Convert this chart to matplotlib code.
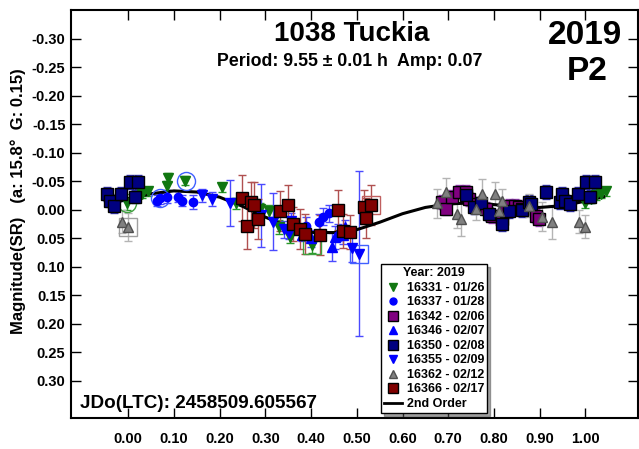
import matplotlib
matplotlib.use("Agg")
import matplotlib.pyplot as plt
from matplotlib.lines import Line2D

plt.rcParams['font.family'] = ['Liberation Sans', 'DejaVu Sans']
plt.rcParams['font.weight'] = 'bold'

# Session 16331 - 01/26
s16331_x = [-0.002, 0.03, 0.044, 0.085, 0.087, 0.124, 0.205, 0.235, 0.288, 0.309, 0.33, 0.353, 0.403,
            1.000, 1.013, 1.024, 1.035, 1.044]
s16331_y = [-0.011, -0.028, -0.032, -0.042, -0.056, -0.051, -0.039, -0.011, -0.002, 0.002, 0.030, 0.047, 0.061,
            -0.011, -0.019, -0.025, -0.028, -0.032]
s16331_e = [0.012, 0.008, 0.008, 0.008, 0.008, 0.008, 0.008, 0.010, 0.010, 0.010, 0.012, 0.012, 0.015,
            0.008, 0.008, 0.008, 0.008, 0.008]

# Session 16337 - 01/28
s16337_x = [0.063, 0.07, 0.085, 0.109, 0.118, 0.142, 0.39, 0.418, 0.427, 0.44]
s16337_y = [-0.016, -0.020, -0.023, -0.023, -0.016, -0.014, 0.028, 0.022, 0.012, 0.006]
s16337_e = [0.010, 0.010, 0.012, 0.010, 0.010, 0.012, 0.015, 0.015, 0.015, 0.015]

# Session 16342 - 02/06
s16342_x = [0.686, 0.695, 0.708, 0.723, 0.738, 0.745, 0.76, 0.782, 0.795, 0.817, 0.826, 0.832, 0.847,
            0.854, 0.861, 0.891, 0.898]
s16342_y = [-0.014, -0.002, -0.023, -0.031, -0.031, -0.019, -0.010, -0.002, 0.011, 0.016, 0.002, -0.007,
            -0.007, -0.005, -0.002, 0.011, 0.016]
s16342_e = [0.012] * 17

# Session 16346 - 02/07
s16346_x = [0.38, 0.40, 0.445, 0.452, 0.46, 0.47, 0.475]
s16346_y = [0.045, 0.050, 0.065, 0.048, 0.040, 0.045, 0.030]
s16346_e = [0.010, 0.015, 0.025, 0.020, 0.015, 0.015, 0.012]

# Session 16350 - 02/08
s16350_x = [-0.046, -0.04, -0.032, -0.015, 0.005, 0.015, 0.022, 0.738, 0.756, 0.771, 0.789, 0.817, 0.832,
            0.862, 0.876, 0.882, 0.913, 0.945, 0.948, 0.956, 0.967, 0.983, 1.002, 1.01, 1.02]
s16350_y = [-0.028, -0.016, -0.007, -0.028, -0.049, -0.023, -0.049, -0.025, -0.005, -0.011, 0.007, 0.025,
            0.002, 0.000, -0.014, -0.010, -0.031, -0.014, -0.028, -0.016, -0.010, -0.028, -0.049, -0.023, -0.049]
s16350_e = [0.012] * 25

# Session 16355 - 02/09
s16355_x = [0.161, 0.183, 0.222, 0.29, 0.316, 0.34, 0.352, 0.356, 0.49, 0.505]
s16355_y = [-0.025, -0.019, -0.012, 0.010, 0.021, 0.034, 0.040, 0.020, 0.067, 0.077]
s16355_e = [0.012, 0.012, 0.040, 0.055, 0.050, 0.015, 0.012, 0.015, 0.025, 0.145]

# Session 16362 - 02/12
s16362_x = [-0.013, 0.0, 0.676, 0.695, 0.719, 0.729, 0.76, 0.774, 0.803, 0.81, 0.817, 0.876, 0.904,
            0.926, 0.985, 1.0]
s16362_y = [0.021, 0.030, -0.011, -0.031, 0.007, 0.016, -0.002, -0.028, -0.028, 0.002, -0.016, -0.007,
            0.012, 0.021, 0.021, 0.030]
s16362_e = [0.020, 0.025, 0.025, 0.025, 0.025, 0.030, 0.020, 0.025, 0.020, 0.025, 0.020, 0.020, 0.025,
            0.030, 0.020, 0.020]

# Session 16366 - 02/17
s16366_x = [0.25, 0.259, 0.268, 0.275, 0.283, 0.331, 0.349, 0.36, 0.375, 0.386, 0.42, 0.458, 0.47,
            0.486, 0.516, 0.521, 0.532]
s16366_y = [-0.021, 0.028, -0.013, -0.008, 0.016, 0.002, -0.009, 0.025, 0.034, 0.042, 0.044, 0.000,
            0.037, 0.039, -0.005, 0.014, -0.009]
s16366_e = [0.040, 0.040, 0.035, 0.040, 0.035, 0.035, 0.035, 0.030, 0.035, 0.035, 0.035, 0.035, 0.030,
            0.030, 0.030, 0.035, 0.035]

# 2nd order Fourier fit
fit_x = [-0.04, 0.00, 0.05, 0.10, 0.15, 0.20, 0.25, 0.30, 0.35, 0.40, 0.45, 0.50, 0.55, 0.60, 0.65,
         0.70, 0.75, 0.80, 0.85, 0.90, 0.95, 1.00, 1.04]
fit_y = [-0.010, -0.019, -0.028, -0.033, -0.031, -0.022, -0.006, 0.013, 0.030, 0.040, 0.040, 0.035,
         0.022, 0.007, -0.004, -0.010, -0.012, -0.009, -0.005, -0.004, -0.007, -0.015, -0.023]

# open markers drawn round some points
ring_x = [-0.002, 0.0, 0.07, 0.127, 0.403, 0.505, 0.532]
ring_y = [-0.011, 0.030, -0.020, -0.050, 0.061, 0.077, -0.009]
ring_m = ['o', 's', 'o', 'o', 's', 's', 's']
ring_c = ['#40a040', '#a0a0a0', '#4060ff', '#4060ff', '#40a040', '#4060ff', '#c06060']

sessions = [
    ("16331 - 01/26", s16331_x, s16331_y, s16331_e, 'v', '#117711', '#117711', '#2a9a2a', 7),
    ("16337 - 01/28", s16337_x, s16337_y, s16337_e, 'o', '#0000ff', '#0000ff', '#4a4aff', 6),
    ("16342 - 02/06", s16342_x, s16342_y, s16342_e, 's', '#800080', 'black', '#a040c0', 8),
    ("16346 - 02/07", s16346_x, s16346_y, s16346_e, '^', '#0000ff', '#0000ff', '#4a4aff', 7),
    ("16350 - 02/08", s16350_x, s16350_y, s16350_e, 's', '#000080', 'black', '#3030b0', 8),
    ("16355 - 02/09", s16355_x, s16355_y, s16355_e, 'v', '#0000ff', '#0000ff', '#4a4aff', 7),
    ("16362 - 02/12", s16362_x, s16362_y, s16362_e, '^', '#808080', '#505050', '#b4b4b4', 7),
    ("16366 - 02/17", s16366_x, s16366_y, s16366_e, 's', '#800000', 'black', '#b05050', 8),
]

fig = plt.figure(figsize=(6.39, 4.49), dpi=100)
ax = fig.add_axes([71 / 639, 31 / 449, 567 / 639, 408 / 449])

handles = []
for label, xs, ys, es, mk, fc, ec, barc, ms in sessions:
    ax.errorbar(xs, ys, yerr=es, fmt='none', ecolor=barc, elinewidth=1, capsize=3, capthick=1, zorder=2)
    ax.plot(xs, ys, linestyle='none', marker=mk, markersize=ms, markerfacecolor=fc,
            markeredgecolor=ec, markeredgewidth=1, zorder=4)
    handles.append(Line2D([], [], linestyle='none', marker=mk, markersize=ms - 1,
                          markerfacecolor=fc, markeredgecolor=ec, label=label))

ax.plot(fit_x, fit_y, color='black', linewidth=2.2, zorder=3)
handles.append(Line2D([], [], color='black', linewidth=2, label='2nd Order'))

for rx, ry, rm, rc in zip(ring_x, ring_y, ring_m, ring_c):
    ax.plot(rx, ry, linestyle='none', marker=rm, markersize=13, markerfacecolor='none',
            markeredgecolor=rc, markeredgewidth=1, zorder=3)

ax.set_xlim(-0.125, 1.115)
ax.set_ylim(0.365, -0.35)
ax.set_xticks([i / 10 for i in range(11)])
ax.set_xticklabels([f"{i / 10:.2f}" for i in range(11)])
yt = [-0.30, -0.25, -0.20, -0.15, -0.10, -0.05, 0.00, 0.05, 0.10, 0.15, 0.20, 0.25, 0.30]
ax.set_yticks(yt)
ax.set_yticklabels([f"{v:.2f}" for v in yt])
ax.tick_params(direction='in', length=7, width=1, top=True, right=True, labelsize=10.5)
ax.tick_params(axis='x', pad=10)
ax.tick_params(axis='y', pad=4)
for lab in ax.get_xticklabels() + ax.get_yticklabels():
    lab.set_fontweight('bold')
for sp in ax.spines.values():
    sp.set_linewidth(1.5)

fig.text(18 / 639, 1 - 201 / 449, "Magnitude(SR)   (a: 15.8°  G: 0.15)", rotation=90, ha='center',
         va='center', fontsize=12, fontweight='bold')

ax.text(0.495, 0.94, "1038 Tuckia", transform=ax.transAxes, ha='center', va='center', fontsize=20,
        fontweight='bold')
ax.text(0.492, 0.875, "Period: 9.55 \u00b1 0.01 h  Amp: 0.07", transform=ax.transAxes, ha='center',
        va='center', fontsize=12.8, fontweight='bold')
ax.text(0.906, 0.938, "2019", transform=ax.transAxes, ha='center', va='center', fontsize=24,
        fontweight='bold')
ax.text(0.911, 0.85, "P2", transform=ax.transAxes, ha='center', va='center', fontsize=24,
        fontweight='bold')
ax.text(0.015, 0.035, "JDo(LTC): 2458509.605567", transform=ax.transAxes, ha='left', va='center',
        fontsize=13.6, fontweight='bold')

leg = ax.legend(handles=handles, title="Year: 2019", loc='lower left', bbox_to_anchor=(0.547, 0.012),
                fontsize=9, title_fontproperties={'weight': 'bold', 'size': 9}, frameon=True,
                fancybox=False, shadow=True, framealpha=1, edgecolor='black', borderpad=0.25,
                labelspacing=0.2, handlelength=1.4, handletextpad=0.4, borderaxespad=0)
leg.get_frame().set_linewidth(1)
for t in leg.get_texts():
    t.set_fontweight('bold')

fig.savefig("out.png", dpi=100)
